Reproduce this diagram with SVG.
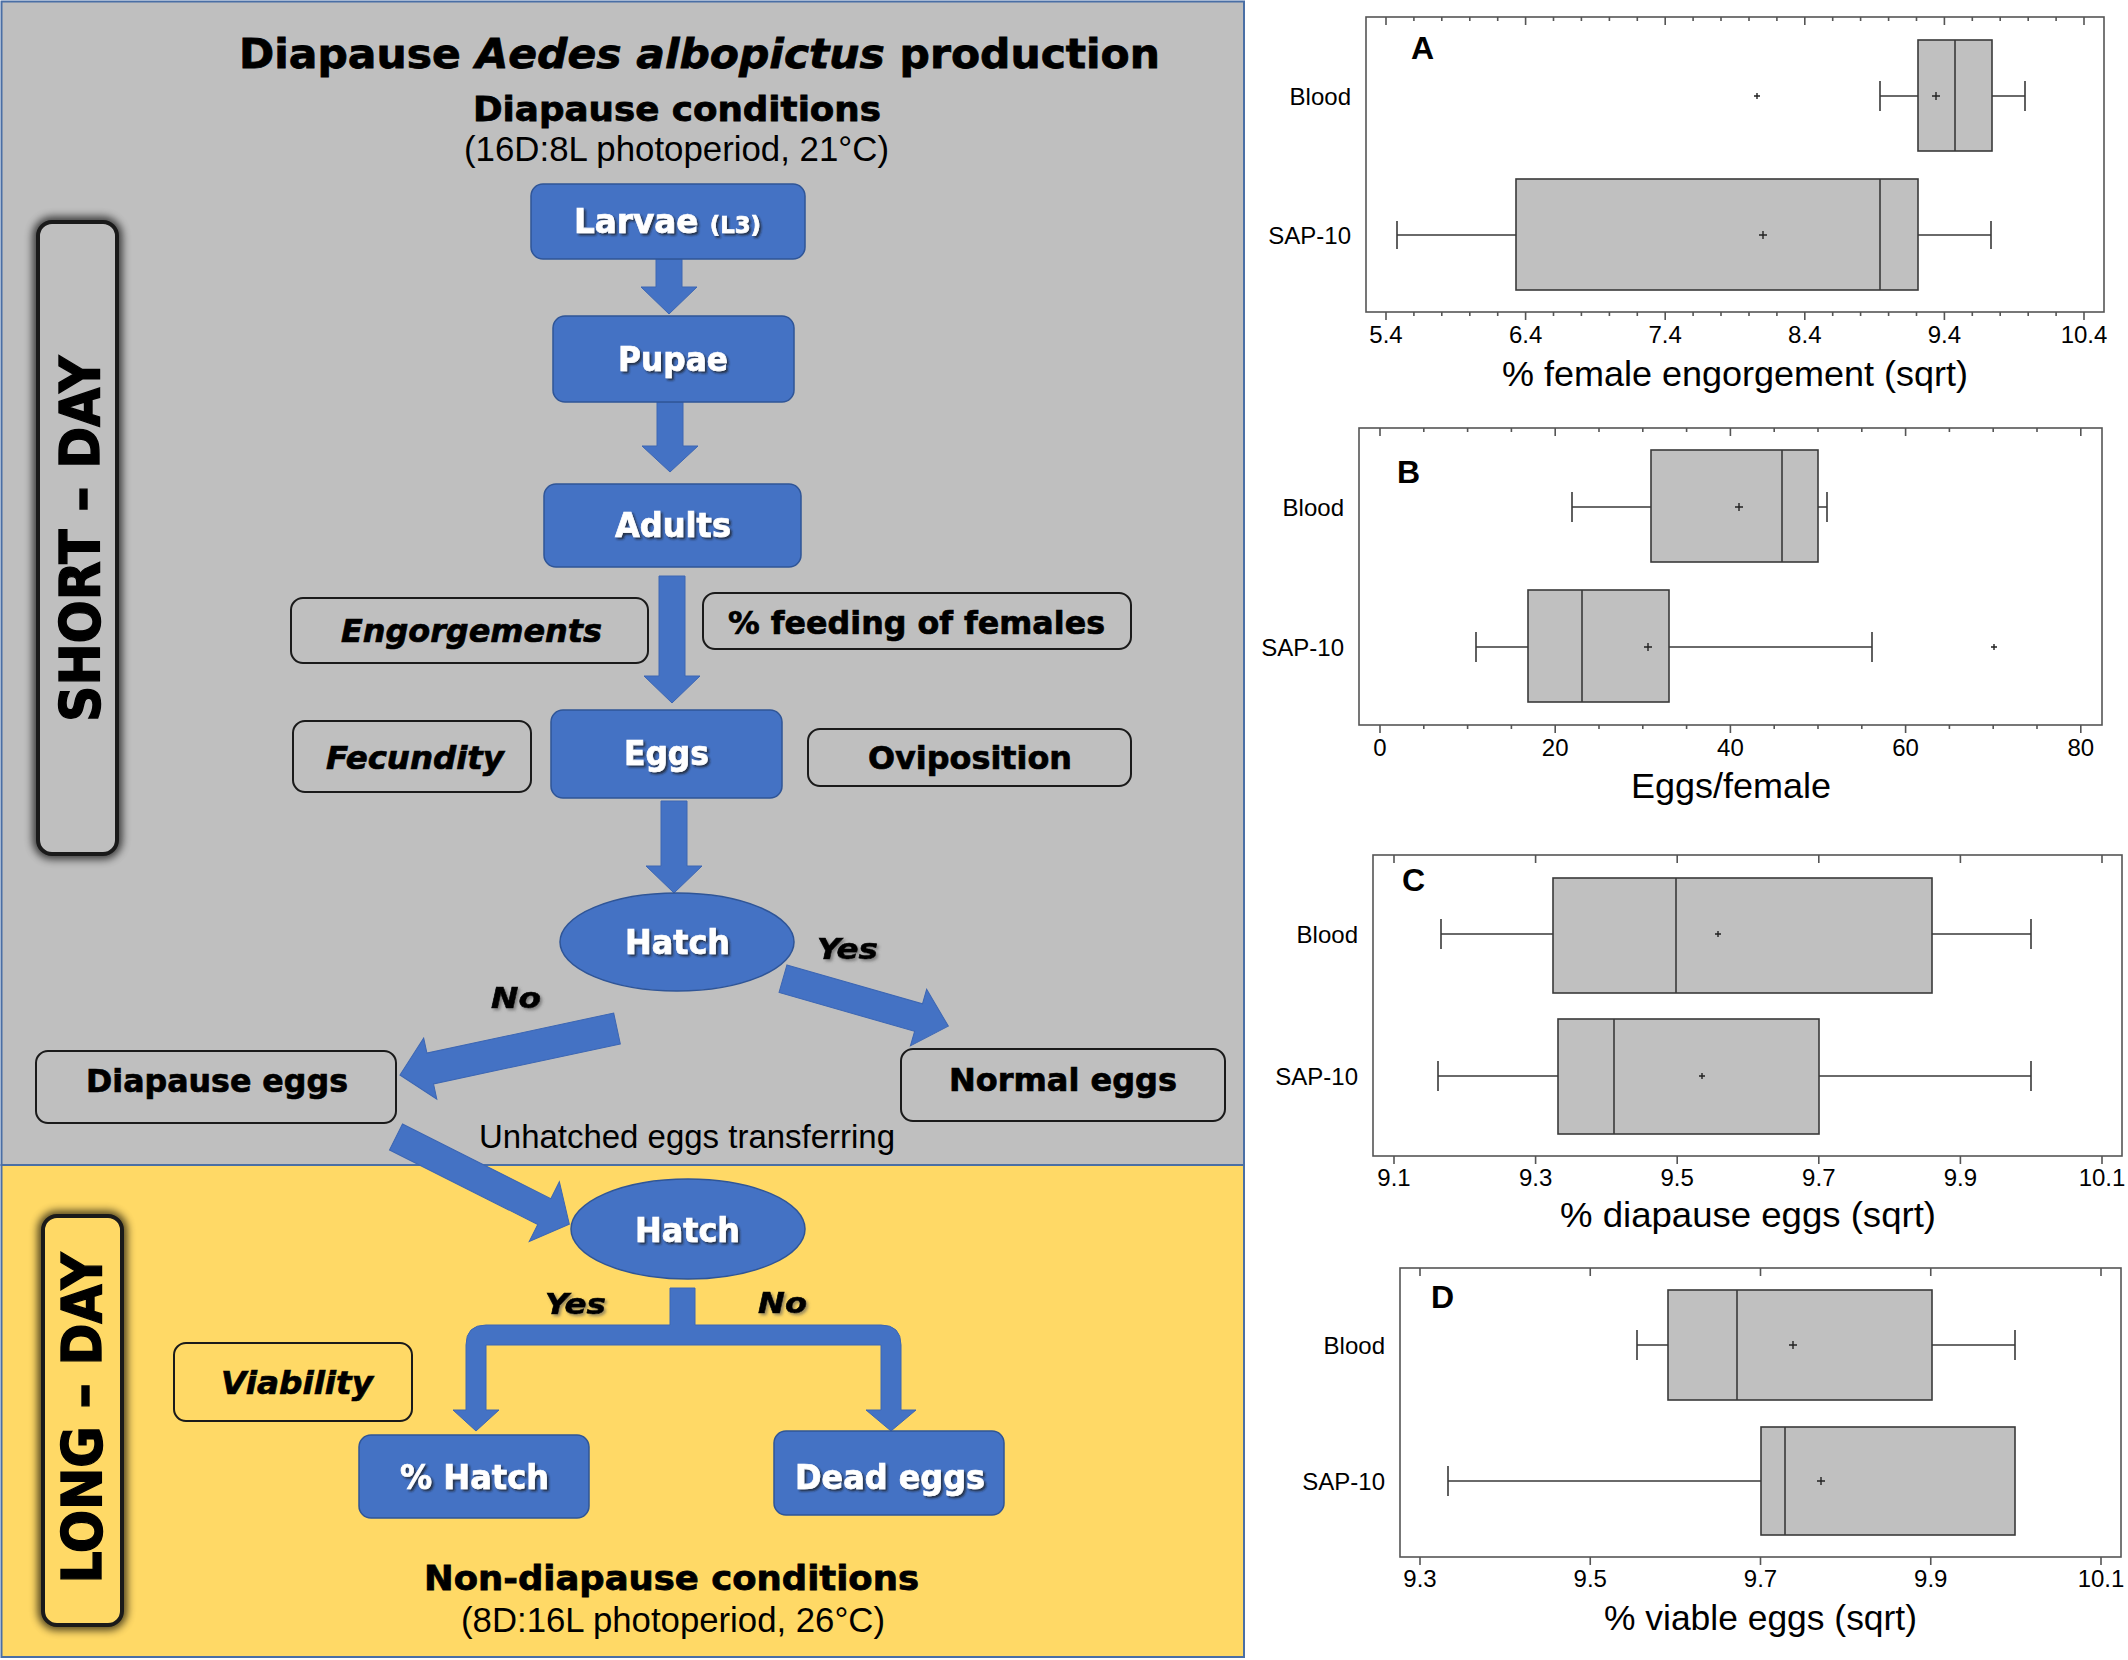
<svg xmlns="http://www.w3.org/2000/svg" width="2128" height="1660" viewBox="0 0 2128 1660">
<defs>
<style>
.bb{fill:#4472c4;stroke:#2f5597;stroke-width:1.5}
.wb{fill:none;stroke:#1a1a1a;stroke-width:2}
.arr{fill:#4472c4;stroke:#3c66b3;stroke-width:1}
.tw{font-family:"DejaVu Sans",sans-serif;font-weight:bold;font-size:33px;fill:#fff;stroke:#fff;stroke-width:0.7px;text-anchor:middle;filter:url(#ts)}
.tb{font-family:"DejaVu Sans",sans-serif;font-weight:bold;font-size:32px;fill:#000;stroke:#000;stroke-width:0.7px;text-anchor:middle}
.ti{font-family:"DejaVu Sans",sans-serif;font-weight:bold;font-style:italic;font-size:32px;fill:#000;stroke:#000;stroke-width:0.7px;text-anchor:middle}
.yn{font-family:"DejaVu Sans",sans-serif;font-weight:bold;font-style:italic;font-size:29px;fill:#000;stroke:#000;stroke-width:0.6px;text-anchor:middle;filter:url(#gs)}
.hd{font-family:"DejaVu Sans",sans-serif;font-weight:bold;fill:#000;stroke:#000;stroke-width:0.8px;text-anchor:middle}
.rg{font-family:"Liberation Sans",Arial,sans-serif;fill:#000;text-anchor:middle}
.side{font-family:"DejaVu Sans",sans-serif;font-weight:bold;font-size:55px;fill:#000;stroke:#000;stroke-width:1.4px;text-anchor:middle}
.fr{fill:#fff;stroke:#555;stroke-width:1.6}
.tk{fill:none;stroke:#555;stroke-width:1.6}
.bx{fill:#c0c0c0;stroke:#3a3a3a;stroke-width:1.6}
.ln{fill:none;stroke:#3a3a3a;stroke-width:1.6}
.mk{fill:none;stroke:#222;stroke-width:1.4}
.tl{font-family:"Liberation Sans",Arial,sans-serif;font-size:24px;fill:#000;text-anchor:middle}
.cl{font-family:"Liberation Sans",Arial,sans-serif;font-size:24px;fill:#000;text-anchor:end}
.at{font-family:"Liberation Sans",Arial,sans-serif;font-size:35px;fill:#000;text-anchor:middle}
.pl{font-family:"Liberation Sans",Arial,sans-serif;font-weight:bold;font-size:32px;fill:#000}
</style>
<filter id="ts" x="-10%" y="-30%" width="130%" height="170%"><feDropShadow dx="2" dy="2" stdDeviation="1" flood-color="#1a1a1a" flood-opacity="0.75"/></filter>
<filter id="gs" x="-20%" y="-30%" width="150%" height="170%"><feDropShadow dx="2" dy="2" stdDeviation="1.5" flood-color="#555" flood-opacity="0.6"/></filter>
<filter id="blur" x="-30%" y="-10%" width="160%" height="120%"><feGaussianBlur stdDeviation="4"/></filter>
</defs>

<rect x="0" y="0" width="2128" height="1660" fill="#fff"/>

<g id="panels">
<rect x="1.5" y="1.5" width="1242.5" height="1163.5" fill="#bfbfbf" stroke="#4a6fa5" stroke-width="2"/>
<rect x="1.5" y="1165" width="1242.5" height="492" fill="#ffd966" stroke="#4a6fa5" stroke-width="2"/>
</g>

<g id="short-day">
<rect x="38" y="222" width="79" height="632" rx="14" fill="none" stroke="#000" stroke-width="10" opacity="0.75" filter="url(#blur)"/>
<rect x="38" y="222" width="79" height="632" rx="14" fill="#bfbfbf" stroke="#1a1a1a" stroke-width="4"/>
<text class="side" transform="translate(99,539) rotate(-90)" textLength="366" lengthAdjust="spacingAndGlyphs">SHORT – DAY</text>
</g>
<g id="long-day">
<rect x="43" y="1216" width="79" height="409" rx="14" fill="none" stroke="#000" stroke-width="10" opacity="0.75" filter="url(#blur)"/>
<rect x="43" y="1216" width="79" height="409" rx="14" fill="#ffd966" stroke="#1a1a1a" stroke-width="4"/>
<text class="side" transform="translate(101,1418) rotate(-90)" textLength="331" lengthAdjust="spacingAndGlyphs">LONG – DAY</text>
</g>

<g id="titles">
<text class="hd" x="699.5" y="68" font-size="41" textLength="921" lengthAdjust="spacingAndGlyphs">Diapause <tspan font-style="italic">Aedes albopictus</tspan> production</text>
<text class="hd" x="677" y="121" font-size="34" textLength="408" lengthAdjust="spacingAndGlyphs">Diapause conditions</text>
<text class="rg" x="676.5" y="161" font-size="35" textLength="425" lengthAdjust="spacingAndGlyphs">(16D:8L photoperiod, 21°C)</text>
<text class="hd" x="671.5" y="1590" font-size="34" textLength="495" lengthAdjust="spacingAndGlyphs">Non-diapause conditions</text>
<text class="rg" x="673" y="1632" font-size="35" textLength="424" lengthAdjust="spacingAndGlyphs">(8D:16L photoperiod, 26°C)</text>
</g>

<g id="connectors">
<polygon class="arr" points="656,259 682,259 682,287 697,287 669,314 641,287 656,287"/>
<polygon class="arr" points="657,402 683,402 683,446 698,446 670,472 642,446 657,446"/>
<polygon class="arr" points="659,576 685,576 685,676 700,676 672,703 644,676 659,676"/>
<polygon class="arr" points="661,801 687,801 687,866 702,866 674,893 646,866 661,866"/>
<polygon class="arr" transform="translate(783,978.7) rotate(16)" points="0,-14.3 141,-14.3 141,-29.4 172,0 141,29.4 141,14.3 0,14.3"/>
<polygon class="arr" transform="translate(617,1028.5) rotate(167.9)" points="0,-15.8 191,-15.8 191,-31.3 222,0 191,31.3 191,15.8 0,15.8"/>
<polygon class="arr" transform="translate(396,1137) rotate(26.7)" points="0,-14.5 166,-14.5 166,-33.5 194,0 166,33.5 166,14.5 0,14.5"/>
<path class="arr" d="M670,1288 H695 V1325 H881 Q901,1325 901,1345 V1410 H916 L891,1431 L866,1410 H881 V1345 H486 V1410 H499 L476,1431 L453,1410 H466 V1345 Q466,1325 486,1325 H670 Z"/>
<text class="yn" x="847.5" y="959" textLength="61" lengthAdjust="spacingAndGlyphs">Yes</text>
<text class="yn" x="516" y="1008" textLength="50" lengthAdjust="spacingAndGlyphs">No</text>
<text class="rg" x="687" y="1148" font-size="33" textLength="416" lengthAdjust="spacingAndGlyphs">Unhatched eggs transferring</text>
<text class="yn" x="575.5" y="1314" textLength="61" lengthAdjust="spacingAndGlyphs">Yes</text>
<text class="yn" x="782.5" y="1313" textLength="49" lengthAdjust="spacingAndGlyphs">No</text>
</g>

<g id="larvae">
<rect class="bb" x="531" y="184" width="274" height="75" rx="12"/>
<text class="tw" x="667.5" y="233" textLength="187" lengthAdjust="spacingAndGlyphs">Larvae <tspan font-size="23">(L3)</tspan></text>
</g>
<g id="pupae">
<rect class="bb" x="553" y="316" width="241" height="86" rx="12"/>
<text class="tw" x="673" y="371" textLength="110" lengthAdjust="spacingAndGlyphs">Pupae</text>
</g>
<g id="adults">
<rect class="bb" x="544" y="484" width="257" height="83" rx="12"/>
<text class="tw" x="673" y="537" textLength="116" lengthAdjust="spacingAndGlyphs">Adults</text>
</g>
<g id="engorgements">
<rect class="wb" x="291" y="598" width="357" height="65" rx="12"/>
<text class="ti" x="471.5" y="642" textLength="261" lengthAdjust="spacingAndGlyphs">Engorgements</text>
</g>
<g id="feeding">
<rect class="wb" x="703" y="593" width="428" height="56" rx="12"/>
<text class="tb" x="916.5" y="634" textLength="377" lengthAdjust="spacingAndGlyphs">% feeding of females</text>
</g>
<g id="fecundity">
<rect class="wb" x="293" y="721" width="238" height="71" rx="12"/>
<text class="ti" x="415" y="769" textLength="178" lengthAdjust="spacingAndGlyphs">Fecundity</text>
</g>
<g id="eggs">
<rect class="bb" x="551" y="710" width="231" height="88" rx="12"/>
<text class="tw" x="666.5" y="765" textLength="85" lengthAdjust="spacingAndGlyphs">Eggs</text>
</g>
<g id="oviposition">
<rect class="wb" x="808" y="729" width="323" height="57" rx="12"/>
<text class="tb" x="970" y="769" textLength="204" lengthAdjust="spacingAndGlyphs">Oviposition</text>
</g>
<g id="hatch1">
<ellipse class="bb" cx="677" cy="942" rx="117" ry="49"/>
<text class="tw" x="677.5" y="954" textLength="105" lengthAdjust="spacingAndGlyphs">Hatch</text>
</g>
<g id="diapause-eggs">
<rect class="wb" x="36" y="1051" width="360" height="72" rx="12"/>
<text class="tb" x="217" y="1092" textLength="262" lengthAdjust="spacingAndGlyphs">Diapause eggs</text>
</g>
<g id="normal-eggs">
<rect class="wb" x="901" y="1049" width="324" height="72" rx="12"/>
<text class="tb" x="1063" y="1091" textLength="228" lengthAdjust="spacingAndGlyphs">Normal eggs</text>
</g>
<g id="hatch2">
<ellipse class="bb" cx="688" cy="1229" rx="117" ry="50"/>
<text class="tw" x="687.5" y="1242" textLength="105" lengthAdjust="spacingAndGlyphs">Hatch</text>
</g>
<g id="viability">
<rect class="wb" x="174" y="1343" width="238" height="78" rx="12"/>
<text class="ti" x="297" y="1394" textLength="152" lengthAdjust="spacingAndGlyphs">Viability</text>
</g>
<g id="pct-hatch">
<rect class="bb" x="359" y="1435" width="230" height="83" rx="12"/>
<text class="tw" x="474.5" y="1489" textLength="149" lengthAdjust="spacingAndGlyphs">% Hatch</text>
</g>
<g id="dead-eggs">
<rect class="bb" x="774" y="1431" width="230" height="84" rx="12"/>
<text class="tw" x="890" y="1489" textLength="190" lengthAdjust="spacingAndGlyphs">Dead eggs</text>
</g>

<!-- Chart A -->
<g id="chartA">
<rect class="fr" x="1366" y="17" width="738" height="295"/>
<path class="tk" d="M1386,312V320M1525.6,312V320M1665.2,312V320M1804.8,312V320M1944.4,312V320M2084,312V320
M1413.9,312V316M1441.8,312V316M1469.8,312V316M1497.7,312V316M1553.5,312V316M1581.4,312V316M1609.4,312V316M1637.3,312V316M1693.1,312V316M1721,312V316M1749,312V316M1776.9,312V316M1832.7,312V316M1860.6,312V316M1888.6,312V316M1916.5,312V316M1972.3,312V316M2000.2,312V316M2028.2,312V316M2056.1,312V316
M1386,17V25M1525.6,17V25M1665.2,17V25M1804.8,17V25M1944.4,17V25M2084,17V25
M1413.9,17V21M1441.8,17V21M1469.8,17V21M1497.7,17V21M1553.5,17V21M1581.4,17V21M1609.4,17V21M1637.3,17V21M1693.1,17V21M1721,17V21M1749,17V21M1776.9,17V21M1832.7,17V21M1860.6,17V21M1888.6,17V21M1916.5,17V21M1972.3,17V21M2000.2,17V21M2028.2,17V21M2056.1,17V21"/>
<text class="tl" x="1386" y="343">5.4</text>
<text class="tl" x="1525.6" y="343">6.4</text>
<text class="tl" x="1665.2" y="343">7.4</text>
<text class="tl" x="1804.8" y="343">8.4</text>
<text class="tl" x="1944.4" y="343">9.4</text>
<text class="tl" x="2084" y="343">10.4</text>
<text class="at" x="1735" y="386" textLength="466" lengthAdjust="spacingAndGlyphs">% female engorgement (sqrt)</text>
<text class="pl" x="1411" y="59">A</text>
<text class="cl" x="1351" y="104.5">Blood</text>
<text class="cl" x="1351" y="243.5">SAP-10</text>
<path class="ln" d="M1880,96H1918M1992,96H2025M1880,81V111M2025,81V111"/>
<rect class="bx" x="1918" y="40" width="74" height="111"/>
<path class="ln" d="M1955,40V151"/>
<path class="mk" d="M1932,96H1940M1936,92V100M1754,96H1760M1757,93V99"/>
<path class="ln" d="M1397,235H1516M1918,235H1991M1397,221V249M1991,221V249"/>
<rect class="bx" x="1516" y="179" width="402" height="111"/>
<path class="ln" d="M1880,179V290"/>
<path class="mk" d="M1759,235H1767M1763,231V239"/>
</g>

<!-- Chart B -->
<g id="chartB">
<rect class="fr" x="1359" y="428" width="743" height="297"/>
<path class="tk" d="M1380,725V733M1555.2,725V733M1730.4,725V733M1905.6,725V733M2080.8,725V733
M1423.8,725V729M1467.6,725V729M1511.4,725V729M1599,725V729M1642.8,725V729M1686.6,725V729M1774.2,725V729M1818,725V729M1861.8,725V729M1949.4,725V729M1993.2,725V729M2037,725V729
M1380,428V436M1555.2,428V436M1730.4,428V436M1905.6,428V436M2080.8,428V436
M1423.8,428V432M1467.6,428V432M1511.4,428V432M1599,428V432M1642.8,428V432M1686.6,428V432M1774.2,428V432M1818,428V432M1861.8,428V432M1949.4,428V432M1993.2,428V432M2037,428V432"/>
<text class="tl" x="1380" y="756">0</text>
<text class="tl" x="1555.2" y="756">20</text>
<text class="tl" x="1730.4" y="756">40</text>
<text class="tl" x="1905.6" y="756">60</text>
<text class="tl" x="2080.8" y="756">80</text>
<text class="at" x="1731" y="798" textLength="200" lengthAdjust="spacingAndGlyphs">Eggs/female</text>
<text class="pl" x="1397" y="483">B</text>
<text class="cl" x="1344" y="515.5">Blood</text>
<text class="cl" x="1344" y="655.5">SAP-10</text>
<path class="ln" d="M1572,507H1651M1818,507H1827M1572,492V522M1827,492V522"/>
<rect class="bx" x="1651" y="450" width="167" height="112"/>
<path class="ln" d="M1782,450V562"/>
<path class="mk" d="M1735,507H1743M1739,503V511"/>
<path class="ln" d="M1476,647H1528M1669,647H1872M1476,632V662M1872,632V662"/>
<rect class="bx" x="1528" y="590" width="141" height="112"/>
<path class="ln" d="M1582,590V702"/>
<path class="mk" d="M1644,647H1652M1648,643V651M1991,647H1997M1994,644V650"/>
</g>

<!-- Chart C -->
<g id="chartC">
<rect class="fr" x="1373" y="855" width="749" height="301"/>
<path class="tk" d="M1394,1156V1164M1535.6,1156V1164M1677.2,1156V1164M1818.8,1156V1164M1960.4,1156V1164M2102,1156V1164
M1394,855V863M1535.6,855V863M1677.2,855V863M1818.8,855V863M1960.4,855V863M2102,855V863"/>
<text class="tl" x="1394" y="1186">9.1</text>
<text class="tl" x="1535.6" y="1186">9.3</text>
<text class="tl" x="1677.2" y="1186">9.5</text>
<text class="tl" x="1818.8" y="1186">9.7</text>
<text class="tl" x="1960.4" y="1186">9.9</text>
<text class="tl" x="2102" y="1186">10.1</text>
<text class="at" x="1748" y="1227" textLength="376" lengthAdjust="spacingAndGlyphs">% diapause eggs (sqrt)</text>
<text class="pl" x="1402" y="891" font-family="Lato,'Liberation Sans',sans-serif">C</text>
<text class="cl" x="1358" y="942.5">Blood</text>
<text class="cl" x="1358" y="1084.5">SAP-10</text>
<path class="ln" d="M1441,934H1553M1932,934H2031M1441,919V949M2031,919V949"/>
<rect class="bx" x="1553" y="878" width="379" height="115"/>
<path class="ln" d="M1676,878V993"/>
<path class="mk" d="M1715,934H1721M1718,931V937"/>
<path class="ln" d="M1438,1076H1558M1819,1076H2031M1438,1061V1091M2031,1061V1091"/>
<rect class="bx" x="1558" y="1019" width="261" height="115"/>
<path class="ln" d="M1614,1019V1134"/>
<path class="mk" d="M1699,1076H1705M1702,1073V1079"/>
</g>

<!-- Chart D -->
<g id="chartD">
<rect class="fr" x="1400" y="1268" width="721" height="289"/>
<path class="tk" d="M1420,1557V1565M1590.25,1557V1565M1760.5,1557V1565M1930.75,1557V1565M2101,1557V1565
M1420,1268V1276M1590.25,1268V1276M1760.5,1268V1276M1930.75,1268V1276M2101,1268V1276"/>
<text class="tl" x="1420" y="1587">9.3</text>
<text class="tl" x="1590.25" y="1587">9.5</text>
<text class="tl" x="1760.5" y="1587">9.7</text>
<text class="tl" x="1930.75" y="1587">9.9</text>
<text class="tl" x="2101" y="1587">10.1</text>
<text class="at" x="1760.5" y="1630" textLength="313" lengthAdjust="spacingAndGlyphs">% viable eggs (sqrt)</text>
<text class="pl" x="1431" y="1308" font-family="Lato,'Liberation Sans',sans-serif">D</text>
<text class="cl" x="1385" y="1353.5">Blood</text>
<text class="cl" x="1385" y="1489.5">SAP-10</text>
<path class="ln" d="M1637,1345H1668M1932,1345H2015M1637,1330V1360M2015,1330V1360"/>
<rect class="bx" x="1668" y="1290" width="264" height="110"/>
<path class="ln" d="M1737,1290V1400"/>
<path class="mk" d="M1789,1345H1797M1793,1341V1349"/>
<path class="ln" d="M1448,1481H1761M1448,1466V1496"/>
<rect class="bx" x="1761" y="1427" width="254" height="108"/>
<path class="ln" d="M1785,1427V1535"/>
<path class="mk" d="M1817,1481H1825M1821,1477V1485"/>
</g>
</svg>
